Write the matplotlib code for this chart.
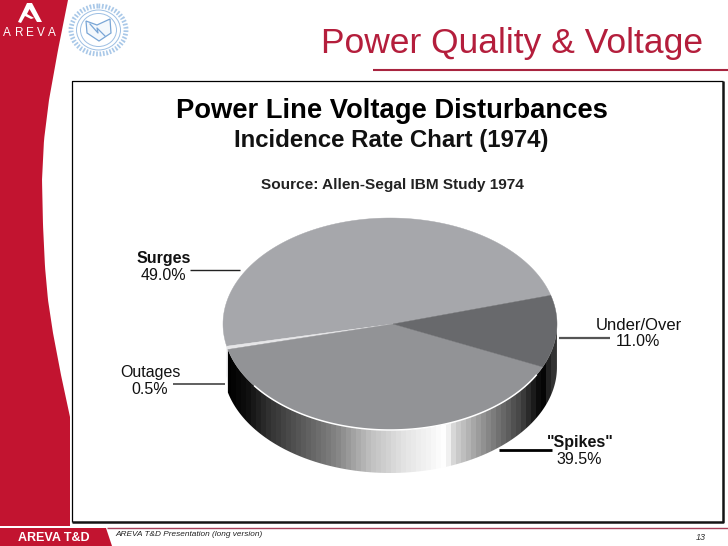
import matplotlib
matplotlib.use("Agg")
import matplotlib.pyplot as plt
import numpy as np
from matplotlib.patches import Polygon, Ellipse

plt.rcParams['font.family'] = ['Liberation Sans', 'DejaVu Sans']

# donnees du camembert (ordre antihoraire depuis la limite Surges / Under)
labels = ['Surges', 'Outages', '"Spikes"', 'Under/Over']
values = [49.0, 0.5, 39.5, 11.0]
value_labels = ['49.0%', '0.5%', '39.5%', '11.0%']
colors = ['#a6a7ab', '#e6e6e8', '#929396', '#68696c']
start_angle = 15.7

RED = '#c21430'
W, H = 728, 546
cx, cy, a, b, depth = 390, 324, 167, 106, 43


def arc(t1, t2, n=120, dy=0):
    t = np.radians(np.linspace(t1, t2, n))
    return np.column_stack([cx + a * np.cos(t), cy + dy - b * np.sin(t)])


fig = plt.figure(figsize=(W / 100, H / 100), dpi=100)
ax = fig.add_axes([0, 0, 1, 1])
ax.set_xlim(0, W)
ax.set_ylim(H, 0)
ax.axis('off')

# bande rouge a gauche
band_y = [0, 50, 100, 140, 180, 225, 267, 300, 333, 375, 417, 527]
band_x = [68, 58, 49, 44, 42, 43, 45, 48, 53, 61, 70, 70]
ys = np.linspace(0, 417, 80)
xs = np.interp(ys, band_y, band_x)
pts = np.column_stack([xs, ys])
pts = np.vstack([[0, 0], pts, [70, 417], [70, 526], [0, 526]])
ax.add_patch(Polygon(pts, fc=RED, ec='none'))

# logo AREVA
ax.add_patch(Polygon([[18, 22], [27, 3], [32, 3], [42, 22], [37, 22], [29.5, 9], [27, 14],
                      [34, 18], [31, 19], [25, 16], [21, 23]], fc='white', ec='none'))
for ch, x in zip('AREVA', [7, 19, 30, 41, 52]):
    ax.text(x, 33, ch, color='white', fontsize=8.5, ha='center', va='center')

# sceau bleu
ax.add_patch(Ellipse((98.5, 30), 55, 48, fc='none', ec='#a9c8e8', lw=3.5, ls=(0, (0.35, 0.35))))
ax.add_patch(Ellipse((98.5, 30), 44, 40, fc='none', ec='#9dbfe3', lw=0.7))
ax.add_patch(Ellipse((98.5, 30), 36, 33, fc='none', ec='#9dbfe3', lw=0.7))
ax.add_patch(Polygon([[86, 21], [97, 25], [110, 19], [111, 33], [99, 41], [87, 33]],
                     fc='#f4f8fc', ec='#7aa6d6', lw=0.9))
ax.plot([90, 98, 97, 105], [24, 33, 28, 36], color='#7aa6d6', lw=0.9)

# titre
ax.text(703, 43, 'Power Quality & Voltage', color='#b41e3c', fontsize=25.5, ha='right', va='center')
ax.plot([373, W], [70, 70], color='#a8243f', lw=1.5, solid_capstyle='butt')

# cadre du graphique
ax.plot([72, 72, 723], [522, 81, 81], color='black', lw=0.9, solid_capstyle='butt')
ax.plot([72, 723, 723], [522, 522, 81], color='#141414', lw=1.8, solid_capstyle='butt')

ax.text(391.5, 111, 'Power Line Voltage Disturbances', fontsize=19.7, fontweight='bold', ha='center', va='center')
ax.text(391, 141, 'Incidence Rate Chart (1974)', fontsize=17.3, fontweight='bold', ha='center', va='center', color='#111111')
ax.text(392, 185, 'Source: Allen-Segal IBM Study 1974', fontsize=11.1, fontweight='bold', ha='center', va='center', color='#222222')

# angles des parts
edges = start_angle + np.concatenate([[0], np.cumsum(values)]) * 3.6

# cote du cylindre: degrade en bandes suivant x
grad_x = [226, 245, 267, 300, 333, 367, 400, 443, 452, 483, 517, 540, 547, 558]
grad_v = [0, 15, 50, 90, 130, 190, 225, 255, 210, 140, 70, 0, 40, 70]
columns = np.arange(226, 558, 5)
gray = np.interp(columns, grad_x, grad_v)[None, :] / 255
im = ax.imshow(gray, cmap='gray', vmin=0, vmax=1, extent=[226, 561, cy + depth + b + 5, cy], aspect='auto',
               interpolation='nearest', zorder=1)
ax.set_xlim(0, W)
ax.set_ylim(H, 0)

side_top = arc(edges[2], 360, 200)
side_bottom = arc(360, edges[2], 200, dy=depth)
clip = Polygon(np.vstack([side_top, side_bottom]), transform=ax.transData, fc='none', ec='none')
ax.add_patch(clip)
im.set_clip_path(clip)

# tranche claire de la part Outages
out_top = arc(edges[1], edges[2], 8)
ax.add_patch(Polygon(np.vstack([out_top, [[out_top[-1][0], cy + 61], [out_top[0][0], cy + 52]]]),
                     fc='#dcdcde', ec='none', zorder=1.5))

# faces du dessus
for i, col in enumerate(colors):
    top = arc(edges[i], edges[i + 1])
    ax.add_patch(Polygon(np.vstack([[cx + 3, cy], top]), fc=col, ec=col, lw=0.3, zorder=2))
ax.plot(*arc(edges[2] + 22, edges[3] - 5).T, color='white', lw=1.1, zorder=3)

# etiquettes et traits de rappel
label_x = [164, 150, 580, 639]
label_y = [258, 373, 443, 326]
value_x = [163, 150, 579, 638]
value_y = [275, 389, 460, 342]
label_fs = [11.5, 11.5, 11.5, 12]
weights = ['bold', 'normal', 'bold', 'normal']
for i in range(4):
    ax.text(label_x[i], label_y[i], labels[i], fontsize=label_fs[i], fontweight=weights[i], ha='center', va='center', color='#111111')
    ax.text(value_x[i], value_y[i], value_labels[i], fontsize=11.5, ha='center', va='center', color='#111111')

line_x = [[190, 240], [173, 225], [499, 552], [559, 610]]
line_y = [270, 384, 450, 338]
line_w = [1.0, 1.2, 2.0, 1.6]
line_c = ['#222222', '#444444', 'black', '#555555']
for i in range(4):
    ax.plot(line_x[i], [line_y[i]] * 2, color=line_c[i], lw=line_w[i], solid_capstyle='butt', zorder=3)

# pied de page
ax.plot([107, W], [527.5, 527.5], color='#a8405a', lw=1, solid_capstyle='butt')
ax.add_patch(Polygon([[0, 528], [106, 528], [112, 546], [0, 546]], fc=RED, ec='none'))
ax.text(54, 538, 'AREVA T&D', color='white', fontsize=9, fontweight='bold', ha='center', va='center')
ax.text(115, 535, 'AREVA T&D Presentation (long version)', fontsize=5.95, style='italic', ha='left', va='center', color='#222222')
ax.text(701, 537, '13', fontsize=6.5, style='italic', ha='center', va='center', color='#333333')

fig.savefig('out.png', dpi=100)
